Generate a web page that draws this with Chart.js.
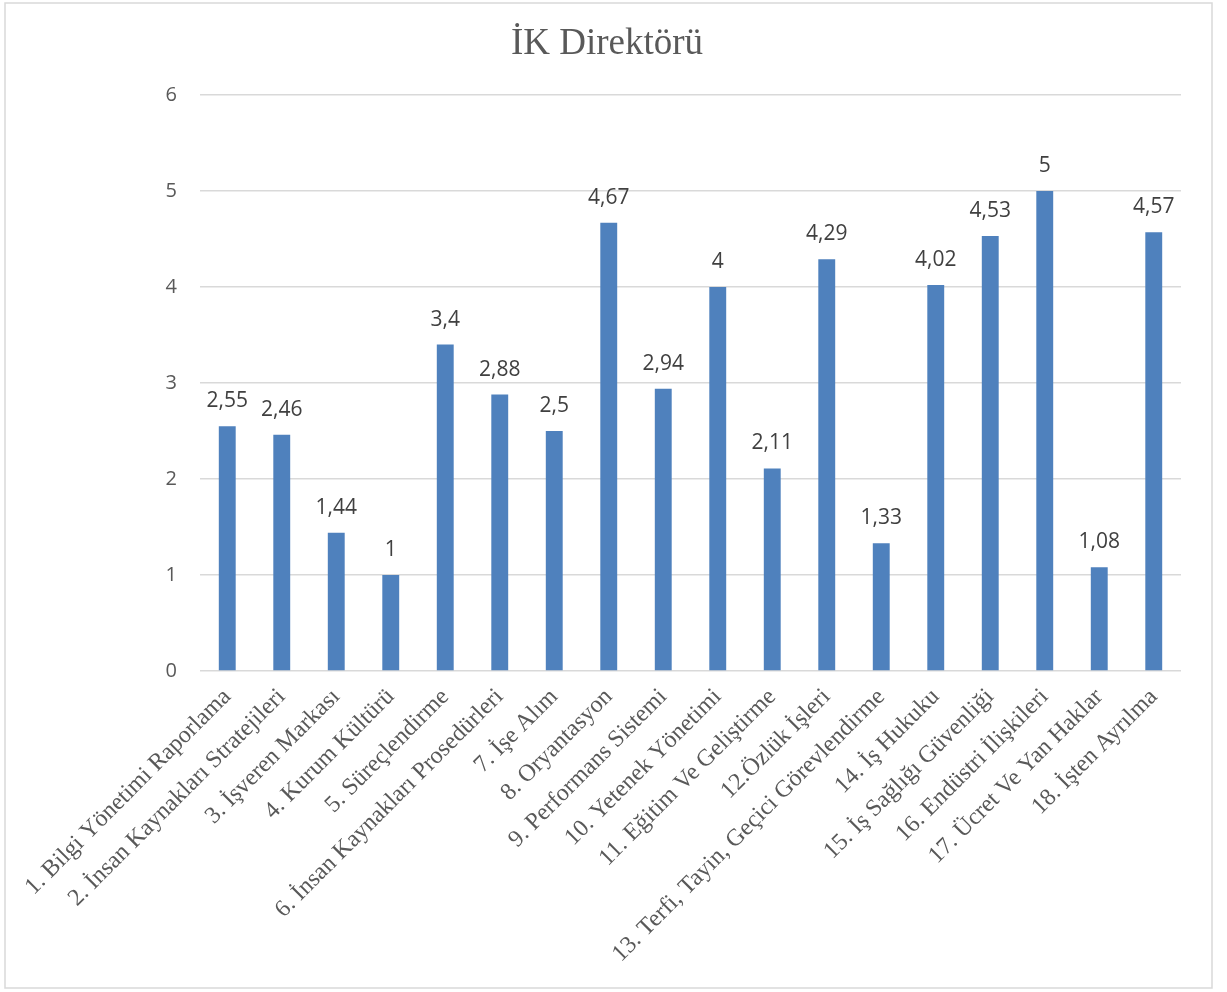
<!DOCTYPE html>
<html>
<head>
<meta charset="utf-8">
<script src="https://cdn.jsdelivr.net/npm/chart.js@4/dist/chart.umd.min.js"></script>
<style>
  html, body { margin: 0; padding: 0; background: #fff; }
  #wrap { position: absolute; left: 0; top: 0; width: 1227px; height: 992px; }
</style>
</head>
<body>
<div id="wrap"><canvas id="chart"></canvas></div>
<script>
const categories = [
    '1. Bilgi Yönetimi Raporlama',
    '2. İnsan Kaynakları Stratejileri',
    '3. İşveren Markası',
    '4. Kurum Kültürü',
    '5. Süreçlendirme',
    '6. İnsan Kaynakları Prosedürleri',
    '7. İşe Alım',
    '8. Oryantasyon',
    '9. Performans Sistemi',
    '10. Yetenek Yönetimi',
    '11. Eğitim Ve Geliştirme',
    '12.Özlük İşleri',
    '13. Terfi, Tayin, Geçici Görevlendirme',
    '14. İş Hukuku',
    '15. İş Sağlığı Güvenliği',
    '16. Endüstri İlişkileri',
    '17. Ücret Ve Yan Haklar',
    '18. İşten Ayrılma'
]
const scores = [2.55, 2.46, 1.44, 1, 3.4, 2.88, 2.5, 4.67, 2.94, 4, 2.11, 4.29, 1.33, 4.02, 4.53, 5, 1.08, 4.57]
const yTicks = [0, 1, 2, 3, 4, 5, 6]

const sansFont = "'Open Sans', 'Liberation Sans', sans-serif"
const serifFont = "'Liberation Serif', 'DejaVu Serif', serif"

// outer frame like the office chart border
const framePlugin = {
    id: 'frame',
    beforeDraw(chart) {
        const ctx = chart.ctx
        ctx.save()
        ctx.fillStyle = '#fff'
        ctx.fillRect(0, 0, chart.width, chart.height)
        ctx.strokeStyle = '#D9D9D9'
        ctx.lineWidth = 1.5
        ctx.strokeRect(5, 3, 1207, 985)
        ctx.restore()
    }
}

// value labels above bars, comma as decimal separator
const valueLabels = {
    id: 'valueLabels',
    afterDatasetsDraw(chart) {
        const ctx = chart.ctx
        const meta = chart.getDatasetMeta(0)
        ctx.save()
        ctx.font = `21px ${sansFont}`
        ctx.fillStyle = '#404040'
        ctx.textAlign = 'center'
        ctx.textBaseline = 'middle'
        meta.data.forEach((bar, i) => {
            const txt = String(scores[i]).replace('.', ',')
            ctx.fillText(txt, bar.x, bar.y - 25)
        })
        ctx.restore()
    }
}

new Chart(document.getElementById('chart'), {
    type: 'bar',
    data: {
        labels: categories,
        datasets: [{
            data: scores,
            backgroundColor: '#4F81BD',
            barPercentage: 0.31,
            categoryPercentage: 1
        }]
    },
    options: {
        responsive: true,
        maintainAspectRatio: false,
        animation: false,
        layout: {
            padding: {left: 33, right: 46, top: 0, bottom: 0}
        },
        plugins: {
            legend: {display: false},
            tooltip: {enabled: false},
            title: {
                display: true,
                text: 'İK Direktörü',
                color: '#595959',
                font: {family: serifFont, size: 37, weight: 'normal'},
                padding: {top: 22, bottom: 28.6}
            }
        },
        scales: {
            x: {
                grid: {display: false},
                border: {display: false},
                ticks: {
                    autoSkip: false,
                    maxRotation: 45,
                    minRotation: 45,
                    padding: 4,
                    color: '#595959',
                    font: {family: serifFont, size: 24}
                },
                afterFit: (scale) => { scale.height = 321 }
            },
            y: {
                min: 0,
                max: 6,
                afterBuildTicks: (scale) => { scale.ticks = yTicks.map(v => ({value: v})) },
                grid: {color: '#D9D9D9', lineWidth: 1.5, drawTicks: false},
                border: {display: false},
                ticks: {
                    padding: 23,
                    color: '#595959',
                    font: {family: sansFont, size: 20}
                },
                afterFit: (scale) => { scale.width = 167 }
            }
        }
    },
    plugins: [framePlugin, valueLabels]
})
</script>
</body>
</html>
